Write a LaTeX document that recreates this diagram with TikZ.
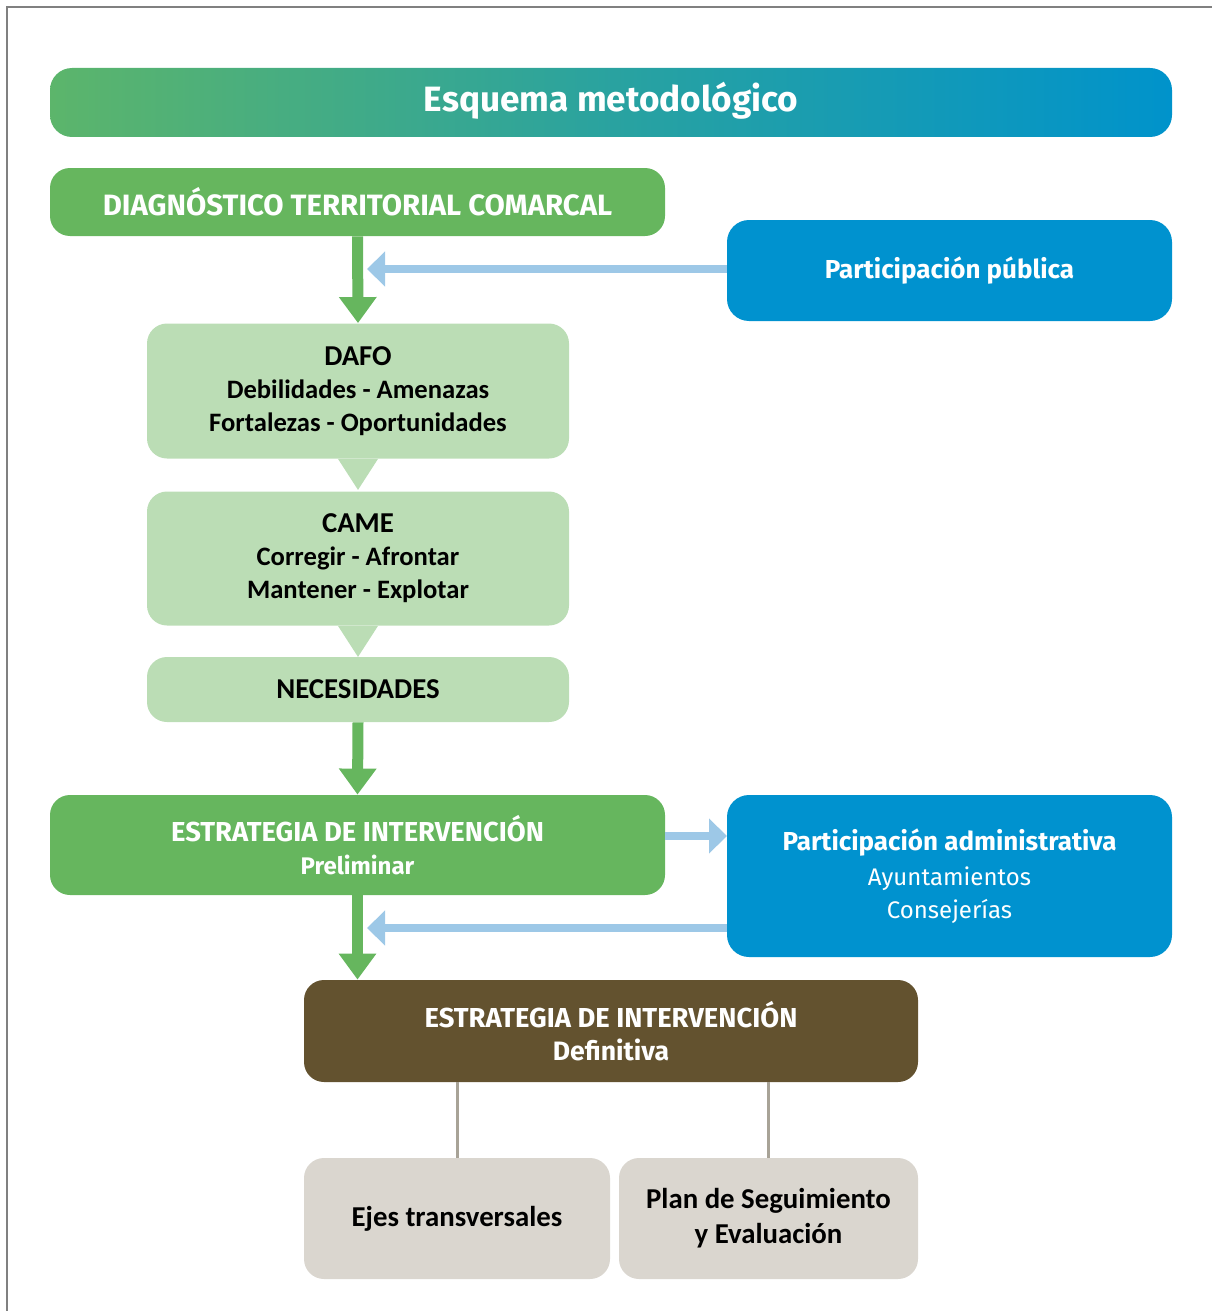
\documentclass[tikz,border=0pt]{standalone}
\usepackage{fontspec}
\setmainfont{Fira Sans}
\newfontfamily\boxfont{Carlito}
\usetikzlibrary{arrows.meta,positioning,calc}

\definecolor{titlegreen}{HTML}{5CB56B}
\definecolor{titleblue}{HTML}{0093CB}
\definecolor{boxgreen}{HTML}{66B65E}
\definecolor{paleg}{HTML}{BBDDB5}
\definecolor{partblue}{HTML}{0092CF}
\definecolor{arrowblue}{HTML}{9DC8E7}
\definecolor{defbrown}{HTML}{63522F}
\definecolor{stonegray}{HTML}{DAD6CF}
\definecolor{linkgray}{HTML}{A8A397}

\begin{document}
\begin{tikzpicture}[
  x=0.5pt,
  y=-0.5pt,
  every node/.style={inner sep=0pt,align=center},
  titlebar/.style={rounded corners=11pt,left color=titlegreen,right color=titleblue,
    middle color=titlegreen!45!titleblue,text=white,
    font=\fontsize{17.6}{20}\selectfont\bfseries},
  mainbox/.style={rounded corners=10pt,fill=boxgreen,text=white,
    font=\fontsize{13.7}{16.5}\selectfont\bfseries},
  partbox/.style={rounded corners=11pt,fill=partblue,text=white,
    font=\fontsize{12}{16.5}\selectfont},
  palebox/.style={rounded corners=10pt,fill=paleg,text=black,
    font=\boxfont\fontsize{13.3}{16.5}\selectfont\bfseries},
  defbox/.style={rounded corners=10pt,fill=defbrown,text=white,
    font=\fontsize{13.7}{16.5}\selectfont\bfseries},
  stonebox/.style={rounded corners=10pt,fill=stonegray,text=black,
    font=\boxfont\fontsize{14.4}{17.5}\selectfont\bfseries},
  garrow/.style={-{Triangle[length=13pt,width=18pt]},line width=5.5pt,draw=boxgreen},
  barrow/.style={-{Triangle[length=9pt,width=17pt]},line width=4pt,draw=arrowblue},
  link/.style={line width=1.5pt,draw=linkgray}
]
\useasboundingbox (0,0) rectangle (1212,1311);

% frame
\draw[line width=1pt,gray] (7,1311) -- (7,7) -- (1212,7);

% title
\node[titlebar,minimum width=561pt,minimum height=34.5pt] (title) at (611,102.5) {\strut Esquema metodológico};

% diagnosis
\node[mainbox,minimum width=307.5pt,minimum height=34pt] (diag) at (357.5,202)
  {\fontsize{14.7}{16.5}\selectfont DIAGNÓSTICO TERRITORIAL COMARCAL};
\node[partbox,minimum width=222.5pt,minimum height=50.5pt] (pub) at (949.5,270.5)
  {\fontsize{13}{16.5}\selectfont\bfseries Participación pública};

% swot chain
\node[palebox,minimum width=211pt,minimum height=67.5pt] (dafo) at (358,391)
  {\fontsize{14.4}{16.5}\selectfont DAFO\\Debilidades - Amenazas\\Fortalezas - Oportunidades};
\node[palebox,minimum width=211pt,minimum height=67pt] (came) at (358,558.5)
  {\fontsize{14.4}{16.5}\selectfont CAME\\Corregir - Afrontar\\Mantener - Explotar};
\node[palebox,minimum width=211pt,minimum height=32.5pt] (nec) at (358,689.5)
  {\fontsize{14.4}{16.5}\selectfont NECESIDADES};
\fill[paleg] ([xshift=-10pt]dafo.south) -- ([xshift=10pt]dafo.south) -- ([yshift=-15.5pt]dafo.south) -- cycle;
\fill[paleg] ([xshift=-10pt]came.south) -- ([xshift=10pt]came.south) -- ([yshift=-15.5pt]came.south) -- cycle;

% strategy
\node[mainbox,minimum width=307.5pt,minimum height=50pt] (prelim) at (357.5,845)
  {ESTRATEGIA DE INTERVENCIÓN\\{\fontsize{12}{13}\selectfont Preliminar}};
\node[partbox,minimum width=222.5pt,minimum height=81pt] (adm) at (949.5,876)
  {{\fontsize{13}{16.5}\selectfont\bfseries Participación administrativa}\\[1pt]Ayuntamientos\\Consejerías};
\node[defbox,minimum width=307pt,minimum height=51pt] (def) at (611,1031)
  {ESTRATEGIA DE INTERVENCIÓN\\{\fontsize{13.3}{13}\selectfont Definitiva}};

% outcomes
\node[stonebox,minimum width=153pt,minimum height=60.5pt] (ejes) at (457,1218.5) {Ejes transversales};
\node[stonebox,minimum width=149.5pt,minimum height=60.5pt] (plan) at (768.5,1218.5) {Plan de Seguimiento\\y Evaluación};

% free ends
\coordinate (pubin) at (367,269);
\coordinate (admout) at (665,836);
\coordinate (admfrom) at (727,836);
\coordinate (admback) at (727,928);
\coordinate (admin) at (367,928);

% flow arrows
\draw[garrow] (diag.south) -- (dafo.north);
\draw[garrow] (nec.south) -- (prelim.north);
\draw[garrow] (prelim.south) -- (prelim.south |- def.north);
\draw[barrow] (pub.west |- pubin) -- (pubin);
\draw[barrow] (admout) -- (admfrom);
\draw[barrow] (admback) -- (admin);

% links
\draw[link] (ejes.north |- def.south) -- (ejes.north);
\draw[link] (plan.north |- def.south) -- (plan.north);
\end{tikzpicture}
\end{document}
